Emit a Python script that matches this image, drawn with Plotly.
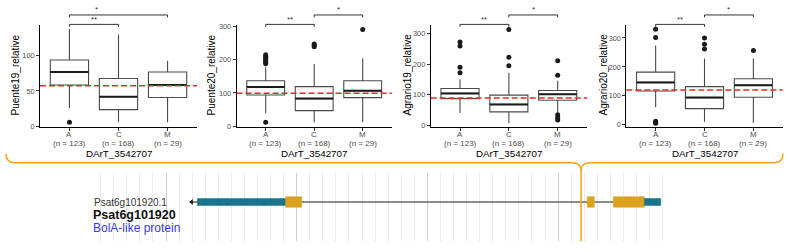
import plotly.graph_objects as go

W, H = 788, 252

# ---------------- data ----------------
groups = ["A", "C", "M"]
group_n = ["(n = 123)", "(n = 168)", "(n = 29)"]
x_title = "DArT_3542707"
traits = ["Puente19_relative", "Puente20_relative", "Agrario19_relative", "Agrario20_relative"]

# box statistics per trait: [A, C, M]
q1 = [[58.5, 23.7, 40.7], [93.8, 46.9, 86.1], [87.7, 44.3, 82.4], [117, 56, 95]]
median = [[76.7, 42.0, 58.5], [118.4, 83.2, 106.7], [104.5, 68.7, 101.4], [146.5, 94, 136.5]]
q3 = [[93.6, 67.5, 76.7], [136.8, 119.2, 136.8], [120.4, 99.0, 114.0], [182, 132, 159]]
lowerfence = [[26, 5.9, 5.9], [39, 11.7, 11.7], [41, 8.4, 42], [61, 11, 7]]
upperfence = [[137.4, 129.7, 92.2], [178, 187.5, 205], [151, 172, 145.7], [274, 229, 229]]
outliers = [
    [[5.9], [], []],
    [[215, 211, 207, 203, 198, 193, 188, 11.7], [248, 243, 239], [291]],
    [[272, 259, 190, 172], [312.6, 222.7, 195], [211, 163.7, 34.8, 26.3, 18]],
    [[330, 302, 12, 8, 5], [300, 278, 262], [257]],
]
overall_mean = [57.5, 99.6, 89.6, 120]
y_ticks = [[0, 50, 100], [0, 100, 200, 300], [0, 100, 200, 300], [0, 100, 200, 300]]

# significance comparisons: (group_from, group_to, label, level, label_x)
comparisons = [
    [(1, 3, "*", 2, 1.56), (1, 2, "**", 1, 1.5)],
    [(1, 2, "**", 1, 1.5), (2, 3, "*", 2, 2.5)],
    [(1, 2, "**", 1, 1.5), (2, 3, "*", 2, 2.5)],
    [(1, 2, "**", 1, 1.5), (2, 3, "*", 2, 2.5)],
]

# gene track (relative bp)
gene_id = "Psat6g101920.1"
gene_name = "Psat6g101920"
gene_desc = "BolA-like protein"
arrow_tip = 1184
feat_start = [1240, 1916, 4223, 4422, 4660]
feat_end = [1916, 2038, 4277, 4660, 4785]
feat_type = ["utr", "cds", "cds", "cds", "utr"]

# ---------------- layout helpers ----------------
def px(x):
    return x / W

def py(y):
    return 1 - y / H

x_dom_px = [(40, 197), (236.6, 391.8), (430.7, 587), (626.3, 782.7)]
y_ranges = [(-1.0, 142.9), (-2.9, 304.7), (-5.4, 327.2), (-8.1, 344.7)]
y_title_pos = [(15.5, 74), (211.5, 74), (407.5, 74), (603.5, 74)]
PLOT_TOP, PLOT_BOT = 22.7, 127.7
BOXW = 0.78

fig = go.Figure()
shapes = []
annotations = []
layout = {}

font_family = "Liberation Sans, Arial, sans-serif"

for i in range(4):
    k = i + 1
    sfx = "" if k == 1 else str(k)
    xa, ya = f"x{sfx}", f"y{sfx}"
    xs = [1, 2, 3]
    fig.add_trace(go.Box(
        x=xs, q1=q1[i], median=median[i], q3=q3[i],
        lowerfence=lowerfence[i], upperfence=upperfence[i],
        width=BOXW, whiskerwidth=0, boxpoints=False,
        fillcolor="white", line=dict(color="#4a4a4a", width=1.1),
        xaxis=xa, yaxis=ya, showlegend=False, hoverinfo="skip"))
    # thicker median line
    mx, my = [], []
    for p, m in zip(xs, median[i]):
        mx += [p - BOXW / 2, p + BOXW / 2, None]
        my += [m, m, None]
    fig.add_trace(go.Scatter(x=mx, y=my, mode="lines",
                             line=dict(color="#1a1a1a", width=2),
                             xaxis=xa, yaxis=ya, showlegend=False, hoverinfo="skip"))
    # outliers
    ox, oy = [], []
    for p, vals in zip(xs, outliers[i]):
        ox += [p] * len(vals)
        oy += vals
    fig.add_trace(go.Scatter(x=ox, y=oy, mode="markers",
                             marker=dict(color="#1a1a1a", size=5),
                             xaxis=xa, yaxis=ya, showlegend=False, hoverinfo="skip"))
    # mean line
    shapes.append(dict(type="line", xref=f"{xa} domain", yref=ya, x0=0, x1=1,
                       y0=overall_mean[i], y1=overall_mean[i],
                       line=dict(color="#e8282b", width=1.5, dash="6px,3px")))
    # axes
    x0p, x1p = x_dom_px[i]
    layout[f"xaxis{sfx}"] = dict(
        domain=[px(x0p), px(x1p)], range=[0.4, 3.6], anchor=ya,
        tickvals=xs, ticktext=groups, showticklabels=False,
        showline=True, linecolor="black", linewidth=1,
        ticks="outside", ticklen=3, tickcolor="#333", tickwidth=1,
        showgrid=False, zeroline=False)
    layout[f"yaxis{sfx}"] = dict(
        domain=[py(PLOT_BOT), py(PLOT_TOP)], range=list(y_ranges[i]), anchor=xa,
        tickvals=y_ticks[i], showline=True, linecolor="black", linewidth=1,
        ticks="outside", ticklen=3, tickcolor="#333", tickwidth=1,
        showgrid=False, zeroline=False,
        tickfont=dict(size=7.3, color="#4d4d4d", family=font_family))
    # group labels and n labels
    for p, g, n in zip(xs, groups, group_n):
        annotations.append(dict(x=p, xref=xa, y=py(135.5), yref="paper", text=g,
                                showarrow=False, xanchor="center", yanchor="middle",
                                font=dict(size=8, color="#4d4d4d", family=font_family)))
        annotations.append(dict(x=p, xref=xa, y=py(144.3), yref="paper", text=n,
                                showarrow=False, xanchor="center", yanchor="middle",
                                font=dict(size=8, color="#4d4d4d", family=font_family)))
    # x title
    annotations.append(dict(x=px((x0p + x1p) / 2), xref="paper", y=py(155), yref="paper",
                            text=x_title, showarrow=False, xanchor="center", yanchor="middle",
                            font=dict(size=9.8, color="black", family=font_family)))
    # y title
    tx, ty = y_title_pos[i]
    annotations.append(dict(x=px(tx), xref="paper", y=py(ty), yref="paper",
                            text=traits[i], showarrow=False, textangle=-90,
                            xanchor="center", yanchor="middle",
                            font=dict(size=10, color="black", family=font_family)))
    # significance brackets
    for g0, g1, lab, lvl, lx in comparisons[i]:
        yb = 22.0 if lvl == 1 else 12.3
        path = (f"M {g0},{py(yb + 2.5)} L {g0},{py(yb)} L {g1},{py(yb)} L {g1},{py(yb + 2.5)}")
        shapes.append(dict(type="path", xref=xa, yref="paper", path=path,
                           line=dict(color="#333", width=1)))
        annotations.append(dict(x=lx, xref=xa, y=py(yb + 1.5), yref="paper", text=lab,
                                showarrow=False, xanchor="center", yanchor="bottom",
                                font=dict(size=8, color="#333", family=font_family)))

# ---------------- gene track ----------------
G_X0, G_X1 = 95, 668
G_Y0, G_Y1 = 175, 245
gene_y_px = 204.7
bp0, px_per_bp = 1000, 0.1307
xr0 = bp0 + (G_X0 - 166) / px_per_bp
xr1 = bp0 + (G_X1 - 166) / px_per_bp
layout["xaxis5"] = dict(domain=[px(G_X0), px(G_X1)], range=[xr0, xr1], anchor="y5",
                        showline=False, zeroline=False, showticklabels=False, ticks="",
                        showgrid=True, dtick=1000, tick0=0, gridcolor="#cfcfcf", gridwidth=1.3,
                        minor=dict(dtick=100, tick0=0, showgrid=True, gridcolor="#ebebeb", gridwidth=1))
layout["yaxis5"] = dict(domain=[py(G_Y1), py(G_Y0)], range=[-(G_Y1 - gene_y_px), gene_y_px - G_Y0],
                        anchor="x5", visible=False, showgrid=False, zeroline=False)

# backbone line
fig.add_trace(go.Scatter(x=[arrow_tip, feat_end[-1]], y=[0, 0], mode="lines",
                         line=dict(color="#666", width=1.3),
                         xaxis="x5", yaxis="y5", showlegend=False, hoverinfo="skip"))
fig.add_trace(go.Scatter(x=[arrow_tip + 12], y=[0], mode="markers",
                         marker=dict(symbol="triangle-left", color="#222", size=5),
                         xaxis="x5", yaxis="y5", showlegend=False, hoverinfo="skip"))
feat_style = {"utr": ("#18758c", 3.6), "cds": ("#daa21d", 5.5)}
for s, e, t in zip(feat_start, feat_end, feat_type):
    col, hh = feat_style[t]
    shapes.append(dict(type="rect", xref="x5", yref="y5", x0=s, x1=e, y0=-hh, y1=hh,
                       fillcolor=col, line=dict(color=col, width=0.5), layer="above"))

annotations.append(dict(x=px(91.7), xref="paper", y=py(204.7), yref="paper", text=gene_id,
                        showarrow=False, xanchor="left", yanchor="middle",
                        font=dict(size=10, color="#333", family=font_family)))
annotations.append(dict(x=px(91.2), xref="paper", y=py(218), yref="paper", text=f"<b>{gene_name}</b>",
                        showarrow=False, xanchor="left", yanchor="middle",
                        font=dict(size=12.5, color="#111", family=font_family)))
annotations.append(dict(x=px(91.2), xref="paper", y=py(231.5), yref="paper", text=gene_desc,
                        showarrow=False, xanchor="left", yanchor="middle",
                        font=dict(size=12, color="#3a3af0", family=font_family)))

# ---------------- orange brace ----------------
OR = "#f2a81d"
bx = 581
brace = (f"M {px(6)},{py(155)} Q {px(6)},{py(164.3)} {px(15)},{py(164.3)} "
         f"L {px(bx - 9)},{py(164.3)} Q {px(bx - 0.5)},{py(164.3)} {px(bx)},{py(171.7)} "
         f"Q {px(bx + 0.5)},{py(164.3)} {px(bx + 9)},{py(164.3)} "
         f"L {px(774)},{py(164.3)} Q {px(783)},{py(164.3)} {px(783)},{py(155)}")
shapes.append(dict(type="path", xref="paper", yref="paper", path=brace,
                   line=dict(color=OR, width=1.6)))
shapes.append(dict(type="line", xref="paper", yref="paper", x0=px(bx), x1=px(bx),
                   y0=py(171.7), y1=py(245), line=dict(color=OR, width=1.6), layer="above"))

fig.update_layout(width=W, height=H, margin=dict(l=0, r=0, t=0, b=0),
                  paper_bgcolor="white", plot_bgcolor="white",
                  shapes=shapes, annotations=annotations,
                  font=dict(family=font_family), **layout)

fig.write_html("out.html", config={"displayModeBar": False},
               post_script="document.body.style.margin='0';document.body.style.overflow='hidden';")
